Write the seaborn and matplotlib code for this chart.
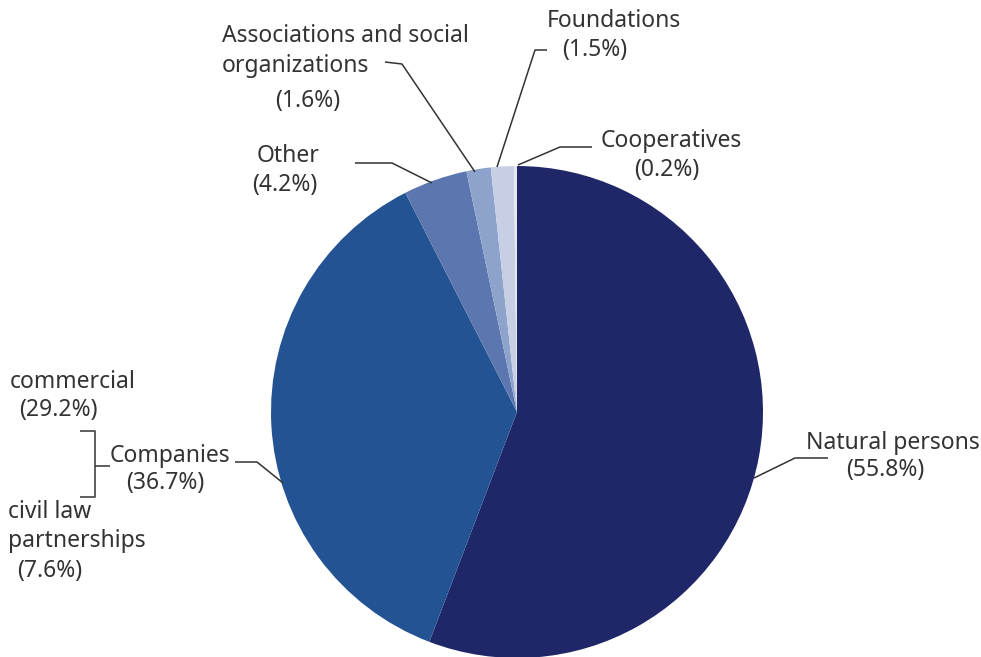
import matplotlib.pyplot as plt
import seaborn as sns

sns.set_theme(style='white')
plt.rcParams['font.family'] = ['Noto Sans', 'DejaVu Sans']

# data
categories = ['Natural persons', 'Companies', 'Other',
              'Associations and social organizations', 'Foundations', 'Cooperatives']
shares = [55.8, 36.7, 4.2, 1.6, 1.5, 0.2]
colors = ['#1f2768', '#235393', '#5c77af', '#8ea3cc', '#c7cfe5', '#e4e8f1']
company_parts = ['commercial', 'civil law partnerships']
company_shares = [29.2, 7.6]

W, H = 981, 657
TXT = '#333333'
FS = 16.5


def py(y):
    # pixel row (top origin) -> data y
    return H - y


def pct(v):
    return f'({v}%)'


fig = plt.figure(figsize=(W / 100, H / 100), dpi=100)
ax = fig.add_axes([0, 0, 1, 1])

ax.pie(shares, colors=colors, startangle=90, counterclock=False,
       center=(517, py(412)), radius=246,
       wedgeprops=dict(linewidth=0))

ax.set_xlim(0, W)
ax.set_ylim(0, H)
ax.set_aspect('equal')
ax.axis('off')


def leader(pts):
    xs = [p[0] for p in pts]
    ys = [py(p[1]) for p in pts]
    ax.plot(xs, ys, color=TXT, lw=1.1, solid_capstyle='butt')


def label(s, x, y, ha='center'):
    ax.text(x, py(y), s, ha=ha, va='center', fontsize=FS, color=TXT)


# Natural persons
label(categories[0], 893, 443)
label(pct(shares[0]), 885, 470)
leader([(754, 478), (795, 458), (828, 458)])

# Companies + split
label(categories[1], 170, 456)
label(pct(shares[1]), 165, 483)
leader([(283, 483), (257, 462), (235, 462)])
leader([(80, 431), (95, 431), (95, 497), (80, 497)])
leader([(95, 466), (110, 466)])
label(company_parts[0], 73, 382)
label(pct(company_shares[0]), 58, 410)
label('civil law', 8, 512, ha='left')
label('partnerships', 8, 541, ha='left')
label(pct(company_shares[1]), 50, 571)

# Other
label(categories[2], 288, 156)
label(pct(shares[2]), 285, 185)
leader([(432, 183), (392, 163), (355, 163)])

# Associations
label('Associations and social', 222, 36, ha='left')
label('organizations', 222, 66, ha='left')
label(pct(shares[3]), 308, 101)
leader([(475, 172), (402, 64), (385, 62)])

# Foundations
label(categories[4], 614, 21)
label(pct(shares[4]), 595, 50)
leader([(497, 167), (535, 50), (547, 50)])

# Cooperatives
label(categories[5], 671, 141)
label(pct(shares[5]), 667, 170)
leader([(518, 165), (560, 147), (592, 147)])

plt.savefig('out.png', dpi=100)
